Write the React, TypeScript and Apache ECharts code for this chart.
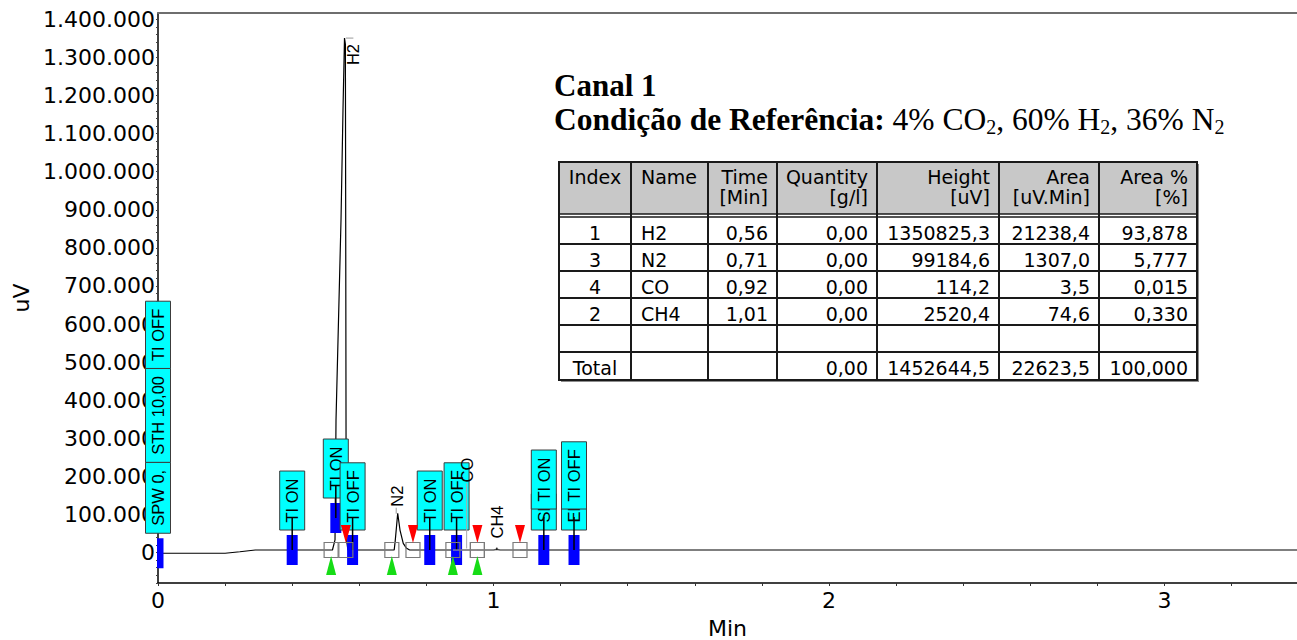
import React, { useEffect, useRef } from "react";
import * as echarts from "echarts";

// ---------------- data ----------------
const traceTimes = [0, 0.2, 0.244, 0.29, 0.52, 0.5276, 0.5306, 0.5455, 0.5514, 0.5559, 0.5585, 0.5595, 0.5605, 0.5625, 0.566, 0.704, 0.707, 0.7145, 0.7213, 0.731, 0.741, 0.75, 1.0, 1.01, 1.02, 3.395];
const traceValues = [-2000, -2000, 2000, 6500, 6500, 33000, 348000, 873000, 1162000, 1350825, 1335000, 870000, 300000, 30000, 6500, 6500, 30000, 103000, 59000, 24000, 11000, 6500, 6500, 9000, 6500, 6500];

const peakIndex = [1, 3, 4, 2];
const peakNames = ["H2", "N2", "CO", "CH4"];
const peakTimes = [0.56, 0.71, 0.92, 1.01];
const peakQuantity = [0, 0, 0, 0];
const peakHeights = [1350825.3, 99184.6, 114.2, 2520.4];
const peakAreas = [21238.4, 1307.0, 3.5, 74.6];
const peakAreaPct = [93.878, 5.777, 0.015, 0.33];
const peakStarts = [0.516, 0.697, 0.879, 0.952];
const peakEnds = [0.56, 0.76, 0.952, 1.079];
const baselineLevel = 6500;

const eventTimes = [0, 0.4, 0.53, 0.58, 0.81, 0.89, 1.15, 1.24];
const eventLabels = [
  ["SPW 0,", "STH 10,00", "TI OFF"],
  ["TI ON"],
  ["TI ON"],
  ["TI OFF"],
  ["TI ON"],
  ["TI OFF"],
  ["SF", "TI ON"],
  ["EF", "TI OFF"],
];

const xLabelValues = [0, 1, 2, 3];
const yLabelValues = [0, 100000, 200000, 300000, 400000, 500000, 600000, 700000, 800000, 900000, 1000000, 1100000, 1200000, 1300000, 1400000];

const tableHeader1 = ["Index", "Name", "Time", "Quantity", "Height", "Area", "Area %"];
const tableHeader2 = ["", "", "[Min]", "[g/l]", "[uV]", "[uV.Min]", "[%]"];

// ---------------- layout (not data) ----------------
const X_MAX = 3.395;
const Y_MIN = -80100;
const Y_MAX = 1416700;
const eventLevel = [0, 0, 1, 0, 0, 0, 0, 0];
const peakLabelLayout = [
  { dx: 7.5, gap: -27, line: null as null | number[], color: "#999" },
  { dx: 1, gap: 8, line: [1, 7], color: "#999" },
  { dx: 0, gap: 70, line: [4, 69], color: "#aaa" },
  { dx: 0, gap: 13, line: [1.5, 4], color: "#000" },
];
const colX = [559, 631, 708, 777, 877, 999, 1099, 1197];
const rowY = [217, 244, 271, 298, 325, 352, 380];
const colAlign = ["center", "left", "right", "right", "right", "right", "right"];

const SANS = '"DejaVu Sans", sans-serif';
const BOX_FONT = '16.5px "Liberation Sans", Arial, sans-serif';

function traceAt(t: number): number {
  for (let i = 0; i < traceTimes.length - 1; i++) {
    if (t >= traceTimes[i] && t <= traceTimes[i + 1]) {
      const f = (t - traceTimes[i]) / (traceTimes[i + 1] - traceTimes[i]);
      return traceValues[i] + f * (traceValues[i + 1] - traceValues[i]);
    }
  }
  return traceValues[traceValues.length - 1];
}

let measureCtx: CanvasRenderingContext2D | null = null;
function measure(s: string): number {
  if (!measureCtx) measureCtx = document.createElement("canvas").getContext("2d");
  if (!measureCtx) return s.length * 9;
  measureCtx.font = BOX_FONT;
  return measureCtx.measureText(s).width;
}

const fmtDec = (v: number, d: number) => v.toFixed(d).replace(".", ",");
const fmtThousands = (v: number) => String(v).replace(/\B(?=(\d{3})+(?!\d))/g, ".");

function buildTable(): any[] {
  const els: any[] = [];
  const L = colX[0], R = colX[colX.length - 1], T = 162, B = rowY[rowY.length - 1];
  els.push({ type: "rect", shape: { x: L + 2, y: T + 2, width: R - L, height: B - T }, style: { fill: "#8c8c8c" }, z: 10 });
  els.push({ type: "rect", shape: { x: L, y: T, width: R - L, height: B - T }, style: { fill: "#fff" }, z: 10 });
  els.push({ type: "rect", shape: { x: L, y: T, width: R - L, height: 214 - T }, style: { fill: "#c8c8c8" }, z: 10 });
  for (let c = 1; c < colX.length - 1; c++) {
    els.push({ type: "line", shape: { x1: colX[c], y1: T, x2: colX[c], y2: B }, style: { stroke: "#1a1a1a", lineWidth: 2 }, z: 11 });
  }
  els.push({ type: "line", shape: { x1: L, y1: 214, x2: R, y2: 214 }, style: { stroke: "#1a1a1a", lineWidth: 1.5 }, z: 11 });
  for (let r = 0; r < rowY.length - 1; r++) {
    els.push({ type: "line", shape: { x1: L, y1: rowY[r], x2: R, y2: rowY[r] }, style: { stroke: "#1a1a1a", lineWidth: r === 0 ? 1.5 : 2 }, z: 11 });
  }
  els.push({ type: "rect", shape: { x: L, y: T, width: R - L, height: B - T }, style: { fill: "none", stroke: "#1a1a1a", lineWidth: 2 }, z: 12 });

  const tx = (c: number) => {
    const a = colAlign[c];
    if (a === "center") return (colX[c] + colX[c + 1]) / 2;
    if (a === "left") return colX[c] + 10;
    return colX[c + 1] - 9;
  };
  const cell = (c: number, y: number, text: string) => {
    if (!text) return;
    els.push({
      type: "text",
      x: tx(c),
      y,
      style: { text, font: "19px " + SANS, fill: "#000", align: colAlign[c], verticalAlign: "middle" },
      z: 13,
    });
  };
  for (let c = 0; c < 7; c++) {
    cell(c, 177, tableHeader1[c]);
    cell(c, 197, tableHeader2[c]);
  }
  const rows: string[][] = peakNames.map((n, i) => [
    String(peakIndex[i]),
    n,
    fmtDec(peakTimes[i], 2),
    fmtDec(peakQuantity[i], 2),
    fmtDec(peakHeights[i], 1),
    fmtDec(peakAreas[i], 1),
    fmtDec(peakAreaPct[i], 3),
  ]);
  rows.push(["", "", "", "", "", "", ""]);
  const sum = (a: number[]) => a.reduce((s, v) => s + v, 0);
  rows.push([
    "Total",
    "",
    "",
    fmtDec(sum(peakQuantity), 2),
    fmtDec(sum(peakHeights), 1),
    fmtDec(sum(peakAreas), 1),
    fmtDec(sum(peakAreaPct), 3),
  ]);
  rows.forEach((row, r) => {
    const yc = (rowY[r] + rowY[r + 1]) / 2 + 2;
    row.forEach((txt, c) => cell(c, yc, txt));
  });
  return els;
}

function buildOption(): any {
  const xTicks: number[] = [];
  for (let k = 0; k <= 16; k++) xTicks.push(+(k * 0.2).toFixed(1));
  const yTicks: number[] = [];
  for (let v = -80000; v <= 1400000; v += 20000) yTicks.push(v);

  return {
    animation: false,
    backgroundColor: "#fff",
    grid: { left: 158, top: 13, width: 1139, height: 570, containLabel: false, outerBoundsMode: "none" },
    xAxis: [
      {
        type: "value",
        min: 0,
        max: X_MAX,
        position: "bottom",
        name: "Min",
        nameLocation: "middle",
        nameGap: 34,
        nameTextStyle: { fontFamily: SANS, fontSize: 22, color: "#000" },
        axisLine: { show: true, onZero: false, lineStyle: { color: "#000", width: 1.5 } },
        axisTick: { show: true, customValues: xTicks, length: 3, lineStyle: { color: "#333" } },
        axisLabel: {
          customValues: xLabelValues,
          fontFamily: SANS,
          fontSize: 22,
          color: "#000",
          margin: 6,
          formatter: (v: number) => String(v),
        },
        splitLine: { show: false },
      },
      {
        type: "value",
        min: 0,
        max: X_MAX,
        position: "top",
        axisLine: { show: true, onZero: false, lineStyle: { color: "#6e6e6e", width: 2 } },
        axisTick: { show: false },
        axisLabel: { show: false },
        splitLine: { show: false },
      },
    ],
    yAxis: {
      type: "value",
      min: Y_MIN,
      max: Y_MAX,
      name: "uV",
      nameLocation: "middle",
      nameGap: 125,
      nameRotate: 90,
      nameTextStyle: { fontFamily: SANS, fontSize: 22, color: "#000" },
      axisLine: { show: true, onZero: false, lineStyle: { color: "#000", width: 1.5 } },
      axisTick: { show: true, customValues: yTicks, length: 2, lineStyle: { color: "#444" } },
      axisLabel: {
        customValues: yLabelValues,
        fontFamily: SANS,
        fontSize: 22,
        color: "#000",
        margin: 3,
        formatter: (v: number) => fmtThousands(v),
      },
      splitLine: { show: false },
    },
    graphic: {
      elements: [
        {
          type: "text",
          x: 554,
          y: 85,
          style: { text: "Canal 1", font: 'bold 31px "Liberation Serif", serif', fill: "#000", align: "left", verticalAlign: "middle" },
          z: 20,
        },
        {
          type: "text",
          x: 554,
          y: 101,
          style: {
            text: "{b|Condição de Referência:}{n| 4% CO}{s|2}{n|, 60% H}{s|2}{n|, 36% N}{s|2}",
            align: "left",
            verticalAlign: "top",
            fill: "#000",
            rich: {
              b: { font: 'bold 31.5px "Liberation Serif", serif', lineHeight: 36, fill: "#000" },
              n: { font: '31.5px "Liberation Serif", serif', lineHeight: 36, fill: "#000" },
              s: { font: '20px "Liberation Serif", serif', lineHeight: 16, verticalAlign: "bottom", fill: "#000" },
            },
          },
          z: 20,
        },
        ...buildTable(),
      ],
    },
    series: [
      {
        type: "line",
        name: "trace",
        data: traceTimes.map((t, i) => [t, traceValues[i]]),
        showSymbol: false,
        symbol: "none",
        lineStyle: { color: "#000", width: 1.2 },
        z: 2,
        silent: true,
      },
      {
        type: "custom",
        name: "events",
        clip: false,
        z: 3,
        silent: true,
        data: eventTimes.map((t, i) => [t, i]),
        renderItem: (params: any, api: any) => {
          const i = params.dataIndex;
          const t = eventTimes[i];
          const p = api.coord([t, Math.min(traceAt(t), baselineLevel)]);
          const x = p[0];
          const yT = p[1];
          const lift = eventLevel[i] * 32;
          const cs = params.coordSys;
          const children: any[] = [];
          const rx0 = Math.max(x - 5.5, cs.x - 1);
          const rx1 = x + 5.5;
          children.push({
            type: "rect",
            shape: { x: rx0, y: yT - 15 - lift, width: rx1 - rx0, height: 30 },
            style: { fill: "#0000ff" },
          });
          let bottom = yT - 20 - lift;
          const firstBottom = bottom;
          eventLabels[i].forEach((lab) => {
            const h = measure(lab) + 15;
            const top = bottom - h;
            children.push({
              type: "rect",
              shape: { x: x - 12.5, y: top, width: 25, height: h },
              style: { fill: "#00ffff", stroke: "#3c3c3c", lineWidth: 1 },
            });
            children.push({
              type: "text",
              x: x,
              y: top + h / 2,
              rotation: Math.PI / 2,
              style: { text: lab, font: BOX_FONT, fill: "#000", align: "center", verticalAlign: "middle" },
            });
            bottom = lab.length <= 2 ? bottom - 21 : top;
          });
          if (i > 0) {
            children.push({
              type: "line",
              shape: { x1: x, y1: firstBottom - 13, x2: x, y2: yT - lift },
              style: { stroke: "#000", lineWidth: 1.5 },
            });
          }
          return { type: "group", children };
        },
      },
      {
        type: "custom",
        name: "integration",
        clip: false,
        z: 4,
        silent: true,
        data: peakStarts.map((t, i) => [t, i]),
        renderItem: (params: any, api: any) => {
          const i = params.dataIndex;
          const ps = api.coord([peakStarts[i], baselineLevel]);
          const pe = api.coord([peakEnds[i], baselineLevel]);
          const children: any[] = [];
          if (peakHeights[i] < 5000) {
            children.push({
              type: "line",
              shape: { x1: ps[0], y1: ps[1], x2: pe[0], y2: pe[1] },
              style: { stroke: "#9a9a9a", lineWidth: 1.2 },
            });
          }
          [ps, pe].forEach((p) => {
            children.push({
              type: "rect",
              shape: { x: p[0] - 7, y: p[1] - 7.5, width: 14, height: 15 },
              style: { fill: "none", stroke: "#7a7a7a", lineWidth: 1.2 },
            });
          });
          children.push({
            type: "polygon",
            shape: { points: [[ps[0] - 5, ps[1] + 25], [ps[0] + 5, ps[1] + 25], [ps[0], ps[1] + 6]] },
            style: { fill: "#16dc16" },
          });
          children.push({
            type: "polygon",
            shape: { points: [[pe[0] - 5, pe[1] - 25], [pe[0] + 5, pe[1] - 25], [pe[0], pe[1] - 7]] },
            style: { fill: "#ff0000" },
          });
          return { type: "group", children };
        },
      },
      {
        type: "custom",
        name: "peakLabels",
        clip: false,
        z: 5,
        silent: true,
        data: peakTimes.map((t, i) => [t, peakHeights[i]]),
        renderItem: (params: any, api: any) => {
          const i = params.dataIndex;
          const p = api.coord([peakTimes[i], peakHeights[i]]);
          const lay = peakLabelLayout[i];
          const children: any[] = [];
          if (lay.line) {
            children.push({
              type: "line",
              shape: { x1: p[0], y1: p[1] - lay.line[0], x2: p[0], y2: p[1] - lay.line[1] },
              style: { stroke: lay.color, lineWidth: 1 },
            });
          } else {
            children.push({
              type: "line",
              shape: { x1: p[0], y1: p[1], x2: p[0] + lay.dx, y2: p[1] },
              style: { stroke: lay.color, lineWidth: 1 },
            });
          }
          children.push({
            type: "text",
            x: p[0] + lay.dx,
            y: p[1] - lay.gap,
            rotation: Math.PI / 2,
            style: { text: peakNames[i], font: BOX_FONT, fill: "#000", align: "left", verticalAlign: "middle" },
          });
          return { type: "group", children };
        },
      },
    ],
  };
}

export default function App() {
  const ref = useRef<HTMLDivElement>(null);
  useEffect(() => {
    if (!ref.current) return;
    const chart = echarts.init(ref.current, null, { renderer: "svg", width: 1297, height: 640 });
    chart.setOption(buildOption());
    return () => chart.dispose();
  }, []);
  return (
    <div
      ref={ref}
      style={{ position: "fixed", left: 0, top: 0, width: 1297, height: 640, background: "#fff" }}
    />
  );
}
